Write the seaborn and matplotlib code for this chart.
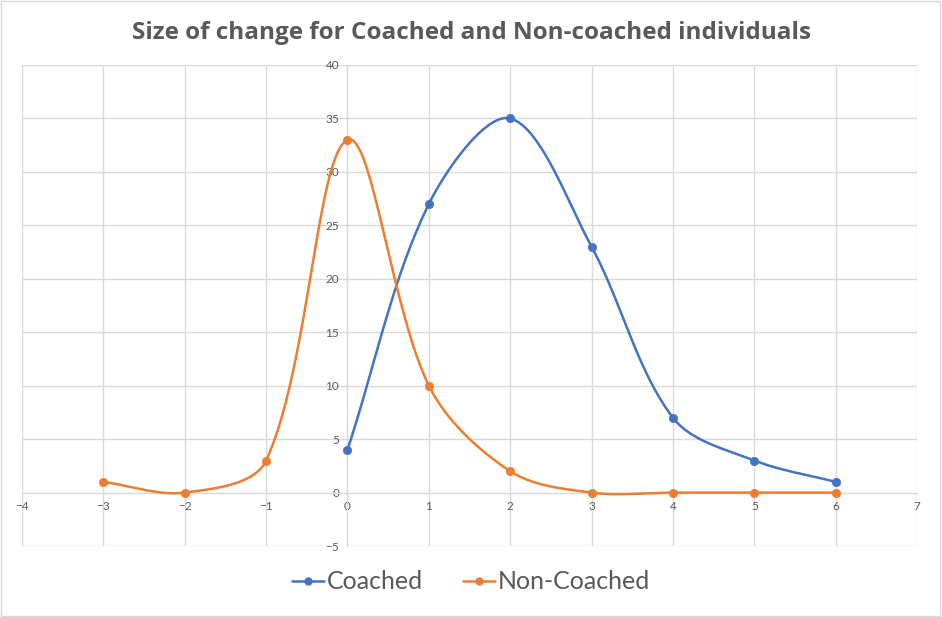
import numpy as np
import pandas as pd
import matplotlib
matplotlib.use("Agg")
import matplotlib.pyplot as plt
import seaborn as sns
from matplotlib.lines import Line2D
from matplotlib.patches import Rectangle

# data
coached_x = [0, 1, 2, 3, 4, 5, 6]
coached_y = [4, 27, 35, 23, 7, 3, 1]
noncoached_x = [-3, -2, -1, 0, 1, 2, 3, 4, 5, 6]
noncoached_y = [1, 0, 3, 33, 10, 2, 0, 0, 0, 0]

BLUE = "#4472C4"
ORANGE = "#ED7D31"
GRID = "#D9D9D9"
TXT = "#595959"

# y units -> x units in screen space (81.4 px per x unit, 10.7 px per y unit)
YSCALE = 10.7 / 81.4


def smooth(xs, ys, n=40):
    # excel style smoothed line: bezier segments, tangents scaled by segment length
    p = np.column_stack([xs, ys]).astype(float)
    p = np.vstack([p[0], p, p[-1]])
    q = p * [1, YSCALE]
    out = []
    t = np.linspace(0, 1, n)[:, None]
    for i in range(1, len(p) - 2):
        p0, p1, p2, p3 = p[i - 1], p[i], p[i + 1], p[i + 2]
        d01 = np.linalg.norm(q[i] - q[i - 1])
        d12 = np.linalg.norm(q[i + 1] - q[i])
        d23 = np.linalg.norm(q[i + 2] - q[i + 1])
        f1 = d12 / (d01 + d12) / 3 if d01 + d12 > 0 else 0
        f2 = d12 / (d12 + d23) / 3 if d12 + d23 > 0 else 0
        c1 = p1 + (p2 - p0) * f1
        c2 = p2 - (p3 - p1) * f2
        seg = ((1 - t) ** 3) * p1 + 3 * ((1 - t) ** 2) * t * c1 + 3 * (1 - t) * t ** 2 * c2 + t ** 3 * p2
        out.append(seg if i == 1 else seg[1:])
    seg = np.vstack(out)
    return pd.DataFrame({"x": seg[:, 0], "y": seg[:, 1]})


sns.set_style("white")
plt.rcParams["font.family"] = ["Lato", "DejaVu Sans"]

fig = plt.figure(figsize=(9.42, 6.17), dpi=100)
ax = fig.add_axes([0.0234, 0.115, 0.9501, 0.7797])

for xs, ys, col in [(coached_x, coached_y, BLUE), (noncoached_x, noncoached_y, ORANGE)]:
    sns.lineplot(data=smooth(xs, ys), x="x", y="y", ax=ax, color=col, lw=1.8,
                 sort=False, estimator=None, zorder=3)
    sns.scatterplot(x=xs, y=ys, ax=ax, color=col, s=36, edgecolor=col, zorder=4)

ax.set_xlim(-4, 7)
ax.set_ylim(-5, 40)
ax.set_xticks(range(-4, 8))
ax.set_yticks(range(-5, 41, 5))
ax.grid(True, color=GRID, lw=1)
ax.set_axisbelow(True)
ax.set_xlabel("")
ax.set_ylabel("")

for s in ["top", "right"]:
    ax.spines[s].set_visible(False)
ax.spines["left"].set_position(("data", 0))
ax.spines["bottom"].set_position(("data", 0))
ax.spines["left"].set_color(GRID)
ax.spines["bottom"].set_color(GRID)
ax.tick_params(axis="both", length=0, labelsize=8.5, labelcolor=TXT, pad=6)

fig.text(0.5, 0.946, "Size of change for Coached and Non-coached individuals",
         ha="center", va="center", fontsize=17.5, fontweight="bold", color=TXT,
         family=["Open Sans", "DejaVu Sans"])

handles = [Line2D([0], [0], color=BLUE, lw=1.8, marker="o", ms=5),
           Line2D([0], [0], color=ORANGE, lw=1.8, marker="o", ms=5)]
fig.legend(handles, ["Coached", "Non-Coached"], loc="center", bbox_to_anchor=(0.5, 0.057),
           ncol=2, frameon=False, fontsize=18, labelcolor=TXT, handlelength=1.3,
           handletextpad=0.1, columnspacing=1.6)

fig.patches.append(Rectangle((0.001, 0.001), 0.997, 0.997, transform=fig.transFigure,
                             fill=False, edgecolor=GRID, lw=1))

fig.savefig("out.png", dpi=100)
